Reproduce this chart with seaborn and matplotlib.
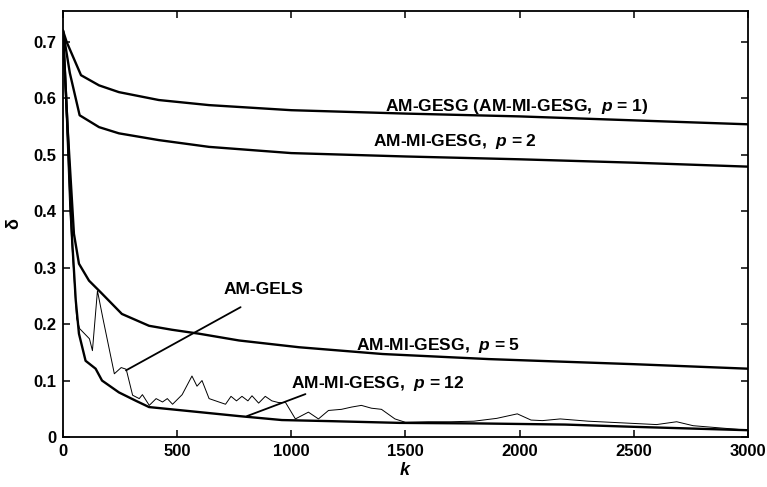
import pandas as pd
import numpy as np
import seaborn as sns
import matplotlib.pyplot as plt

# data
k_gesg = [0, 16, 79, 158, 245, 420, 640, 1000, 1500, 2000, 2500, 3000]
d_gesg = [0.72, 0.70, 0.641, 0.623, 0.611, 0.597, 0.588, 0.579, 0.573, 0.568, 0.561, 0.554]

k_p2 = [0, 30, 73, 158, 245, 420, 640, 1000, 1500, 2000, 2500, 3000]
d_p2 = [0.72, 0.645, 0.570, 0.549, 0.538, 0.526, 0.514, 0.503, 0.497, 0.492, 0.486, 0.479]

k_p5 = [0, 20, 48, 70, 114, 166, 258, 377, 477, 596, 771, 1034, 1400, 1866, 2500, 3000]
d_p5 = [0.72, 0.55, 0.36, 0.307, 0.277, 0.256, 0.218, 0.197, 0.190, 0.183, 0.171, 0.159,
        0.147, 0.138, 0.129, 0.121]

k_p12 = [0, 20, 40, 56, 70, 99, 143, 171, 245, 320, 377, 550, 771, 959, 1178, 1472, 1822,
         2200, 2500, 3000]
d_p12 = [0.72, 0.55, 0.35, 0.242, 0.183, 0.135, 0.121, 0.10, 0.079, 0.064, 0.053, 0.046,
         0.037, 0.030, 0.028, 0.025, 0.024, 0.022, 0.018, 0.012]

k_gels = [0, 30, 60, 73, 116, 129, 151, 175, 225, 255, 277, 305, 334, 348, 378, 408, 436,
          457, 480, 522, 565, 587, 609, 640, 683, 712, 736, 760, 784, 810, 828, 857, 886,
          915, 944, 975, 1018, 1075, 1119, 1163, 1220, 1264, 1307, 1351, 1395, 1454, 1500,
          1600, 1700, 1800, 1900, 1990, 2050, 2100, 2178, 2300, 2500, 2600, 2688, 2760,
          2850, 3000]
d_gels = [0.72, 0.40, 0.21, 0.192, 0.174, 0.153, 0.259, 0.21, 0.112, 0.123, 0.12, 0.074,
          0.068, 0.075, 0.056, 0.068, 0.062, 0.068, 0.058, 0.075, 0.108, 0.09, 0.10, 0.068,
          0.062, 0.058, 0.072, 0.064, 0.072, 0.064, 0.073, 0.06, 0.072, 0.064, 0.061, 0.061,
          0.032, 0.044, 0.032, 0.047, 0.049, 0.053, 0.056, 0.051, 0.049, 0.032, 0.026,
          0.027, 0.027, 0.028, 0.033, 0.041, 0.030, 0.029, 0.032, 0.028, 0.024, 0.022,
          0.027, 0.020, 0.017, 0.012]

sns.set_theme(style="ticks")
plt.rcParams['font.family'] = ['Liberation Sans', 'DejaVu Sans']
plt.rcParams['font.weight'] = 'bold'
plt.rcParams['mathtext.fontset'] = 'custom'
plt.rcParams['mathtext.rm'] = 'Liberation Sans:bold'
plt.rcParams['mathtext.it'] = 'Liberation Sans:italic:bold'
plt.rcParams['xtick.direction'] = 'in'
plt.rcParams['ytick.direction'] = 'in'
plt.rcParams['xtick.top'] = True
plt.rcParams['ytick.right'] = True
for key in ['axes.edgecolor', 'axes.labelcolor', 'text.color', 'xtick.color', 'ytick.color']:
    plt.rcParams[key] = 'black'

fig = plt.figure(figsize=(7.67, 4.87), dpi=100)
ax = fig.add_axes([0.0821, 0.1027, 0.893, 0.875])

# thick smooth curves
for k, d in [(k_gesg, d_gesg), (k_p2, d_p2), (k_p5, d_p5), (k_p12, d_p12)]:
    sns.lineplot(x=k, y=d, ax=ax, color='black', linewidth=1.7, sort=False)

# noisy AM-GELS curve
sns.lineplot(x=k_gels, y=d_gels, ax=ax, color='black', linewidth=0.7, sort=False)

ax.set_xlim(0, 3000)
ax.set_ylim(0, 0.755)
ax.set_xticks([0, 500, 1000, 1500, 2000, 2500, 3000])
ax.set_yticks([0, 0.1, 0.2, 0.3, 0.4, 0.5, 0.6, 0.7])
ax.set_yticklabels(['0', '0.1', '0.2', '0.3', '0.4', '0.5', '0.6', '0.7'])
ax.tick_params(axis='both', length=5, width=1.1, labelsize=12, pad=5)
for lab in ax.get_xticklabels() + ax.get_yticklabels():
    lab.set_fontweight('bold')
for sp in ax.spines.values():
    sp.set_linewidth(1.3)

ax.set_xlabel('$k$', fontsize=13, labelpad=2)
ax.set_ylabel('δ', fontsize=13, fontweight='bold', labelpad=8)

fs = 12.5
ax.text(1410, 0.585, 'AM-GESG (AM-MI-GESG,  $p$ = 1)', fontsize=fs, va='center')
ax.text(1358, 0.524, 'AM-MI-GESG,  $p$ = 2', fontsize=fs, va='center')
ax.text(1284, 0.162, 'AM-MI-GESG,  $p$ = 5', fontsize=fs, va='center')
ax.text(997, 0.094, 'AM-MI-GESG,  $p$ = 12', fontsize=fs, va='center')
ax.text(705, 0.262, 'AM-GELS', fontsize=fs, va='center')

# pointer lines
ax.annotate('', xy=(276, 0.118), xytext=(778, 0.23),
            arrowprops=dict(arrowstyle='-', color='black', lw=1.3, shrinkA=0, shrinkB=0))
ax.annotate('', xy=(806, 0.037), xytext=(1062, 0.076),
            arrowprops=dict(arrowstyle='-', color='black', lw=1.3, shrinkA=0, shrinkB=0))

fig.savefig('out.png', dpi=100)
